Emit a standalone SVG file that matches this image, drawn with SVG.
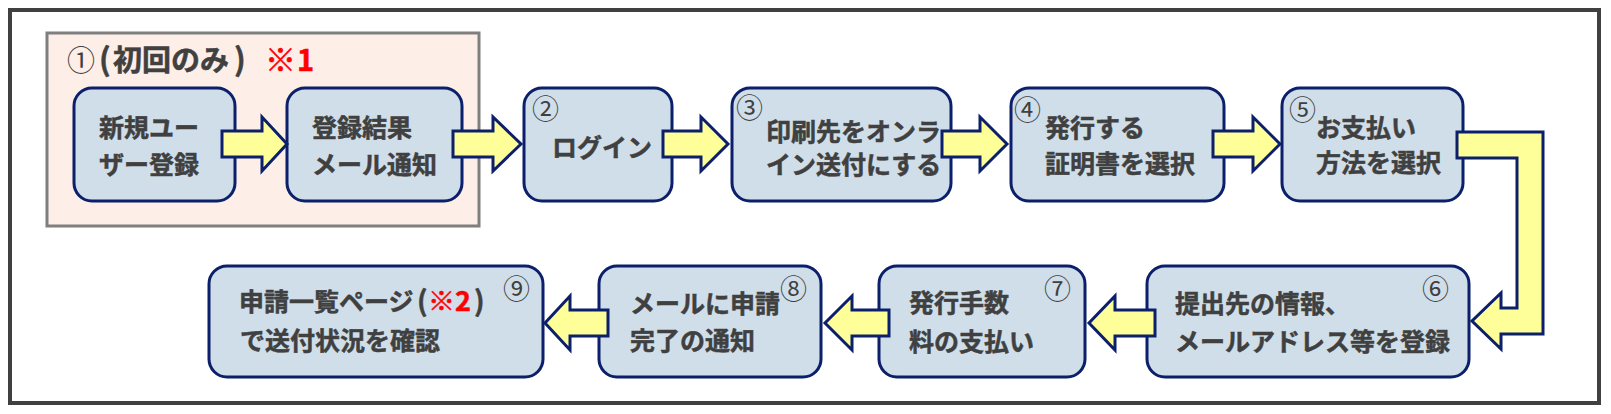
<svg xmlns="http://www.w3.org/2000/svg" width="1611" height="414" viewBox="0 0 1611 414">
<style>
.node{fill:#cfdee9;stroke:#0b1f6b;stroke-width:3}
.arr{fill:#ffff99;stroke:#0b1f6b;stroke-width:3;stroke-linejoin:miter}
.t{font-family:'Noto Sans CJK JP','Noto Sans',sans-serif;font-weight:700;font-size:25px;fill:#404040;stroke:#404040;stroke-width:0.5}
.n{font-family:'Noto Sans CJK JP','Noto Sans',sans-serif;font-weight:400;font-size:27px;fill:#404040;stroke:none}
.red{fill:#ff0000;stroke:#ff0000}
</style>
<rect x="0" y="0" width="1611" height="414" fill="#ffffff"/>
<rect x="10" y="10" width="1589" height="393" fill="#ffffff" stroke="#404040" stroke-width="4"/>
<g id="group-first">
<rect x="47" y="33" width="432" height="193" fill="#fdeee7" stroke="#7f7f7f" stroke-width="3"/>
<text class="t" style="font-size:29px" y="71"><tspan class="n" style="font-size:28px" x="67">①</tspan><tspan style="font-size:31px" x="99">(</tspan><tspan x="113">初回のみ</tspan><tspan style="font-size:31px" x="234">)</tspan><tspan class="red" style="font-size:31px" x="265">※</tspan><tspan class="red" x="297">1</tspan></text>
</g>
<g id="node-register">
<rect class="node" x="74" y="88" width="161" height="113" rx="18"/>
<text class="t" x="99" y="137">新規ユー</text>
<text class="t" x="99" y="174">ザー登録</text>
</g>
<g id="node-mail">
<rect class="node" x="287" y="88" width="175" height="113" rx="18"/>
<text class="t" x="312" y="137">登録結果</text>
<text class="t" x="312" y="174">メール通知</text>
</g>
<g id="node-2">
<rect class="node" x="524" y="88" width="148" height="113" rx="18"/>
<text class="n" x="532" y="119">②</text>
<text class="t" x="552" y="157">ログイン</text>
</g>
<g id="node-3">
<rect class="node" x="732" y="88" width="219" height="113" rx="18"/>
<text class="n" x="736" y="118">③</text>
<text class="t" x="766" y="141">印刷先をオンラ</text>
<text class="t" x="766" y="174">イン送付にする</text>
</g>
<g id="node-4">
<rect class="node" x="1011" y="88" width="213" height="113" rx="18"/>
<text class="n" x="1014" y="120">④</text>
<text class="t" x="1045" y="137">発行する</text>
<text class="t" x="1045" y="173">証明書を選択</text>
</g>
<g id="node-5">
<rect class="node" x="1282" y="88" width="181" height="113" rx="18"/>
<text class="n" x="1289" y="120">⑤</text>
<text class="t" x="1316" y="137">お支払い</text>
<text class="t" x="1316" y="172">方法を選択</text>
</g>
<g id="node-6">
<rect class="node" x="1147" y="266" width="322" height="111" rx="18"/>
<text class="n" x="1422" y="299">⑥</text>
<text class="t" x="1175" y="313">提出先の情報、</text>
<text class="t" x="1175" y="351">メールアドレス等を登録</text>
</g>
<g id="node-7">
<rect class="node" x="879" y="266" width="206" height="111" rx="18"/>
<text class="n" x="1044" y="299">⑦</text>
<text class="t" x="909" y="312">発行手数</text>
<text class="t" x="909" y="351">料の支払い</text>
</g>
<g id="node-8">
<rect class="node" x="599" y="266" width="222" height="111" rx="18"/>
<text class="n" x="780" y="299">⑧</text>
<text class="t" x="630" y="313">メールに申請</text>
<text class="t" x="630" y="350">完了の通知</text>
</g>
<g id="node-9">
<rect class="node" x="209" y="266" width="334" height="111" rx="18"/>
<text class="n" x="503" y="299">⑨</text>
<text class="t" y="311"><tspan x="239">申請一覧ページ</tspan><tspan style="font-size:28px" x="417">(</tspan><tspan class="red" style="font-size:27px" x="428">※2</tspan><tspan style="font-size:28px" x="474">)</tspan></text>
<text class="t" x="240" y="350">で送付状況を確認</text>
</g>
<g id="connectors">
<polygon class="arr" points="222,131 262,131 262,117 287,144 262,171 262,157 222,157"/>
<polygon class="arr" points="453,131 493,131 493,117 521,144 493,171 493,157 453,157"/>
<polygon class="arr" points="663,131 701,131 701,117 728,144 701,171 701,157 663,157"/>
<polygon class="arr" points="942,131 980,131 980,117 1007,144 980,171 980,157 942,157"/>
<polygon class="arr" points="1213,131 1253,131 1253,117 1280,144 1253,171 1253,157 1213,157"/>
<polygon class="arr" points="1457,132 1543,132 1543,334 1501,334 1501,349 1472,321 1501,293 1501,308 1517,308 1517,158 1457,158"/>
<polygon class="arr" points="1155,310 1115,310 1115,296 1089,323 1115,350 1115,336 1155,336"/>
<polygon class="arr" points="889,310 852,310 852,296 825,323 852,350 852,336 889,336"/>
<polygon class="arr" points="608,310 570,310 570,296 545,323 570,350 570,336 608,336"/>
</g>
</svg>
